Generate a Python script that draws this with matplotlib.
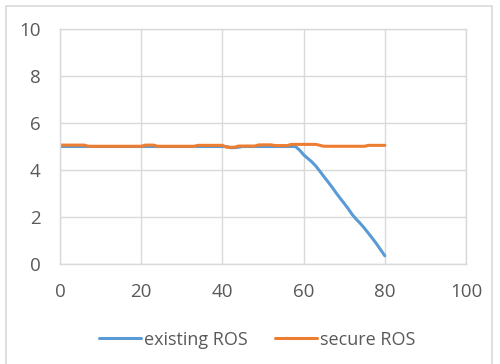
import numpy as np
import matplotlib
matplotlib.use("Agg")
import matplotlib.pyplot as plt
from matplotlib.patches import Rectangle

plt.rcParams['font.family'] = ['Open Sans', 'DejaVu Sans']

# data
x = list(range(0, 81))

existing_ros = ([5.0] * 42 + [4.95, 4.95, 4.97] + [5.0] * 14 +
                [4.85, 4.65, 4.5, 4.35, 4.17, 3.95, 3.72, 3.5, 3.27, 3.03,
                 2.8, 2.58, 2.35, 2.1, 1.9, 1.72, 1.52, 1.3, 1.08, 0.85,
                 0.6, 0.35])

secure_ros = ([5.06] * 7 + [5.01] * 14 + [5.06] * 3 + [5.01] * 10 +
              [5.05] * 7 + [4.97] * 3 + [5.02] * 5 + [5.07] * 4 +
              [5.04] * 4 + [5.09] * 7 + [5.05] + [5.01] * 11 + [5.05] * 5)

series_names = ["existing ROS", "secure ROS"]
xticks = [0, 20, 40, 60, 80, 100]
yticks = [0, 2, 4, 6, 8, 10]

blue = "#5B9BD5"
orange = "#ED7D31"
grid_col = "#D9D9D9"
text_col = "#595959"

fig = plt.figure(figsize=(5, 3.64), dpi=100)
ax = fig.add_axes([0.12, 0.2747, 0.812, 0.6456])

# chart-area border
fig.patches.append(Rectangle((0.012, -0.02), 0.972, 1.003, transform=fig.transFigure,
                             fill=False, edgecolor=grid_col, linewidth=1.2))

ax.plot(x, existing_ros, color=blue, linewidth=2.2, label=series_names[0], solid_capstyle='round')
ax.plot(x, secure_ros, color=orange, linewidth=2.2, label=series_names[1], solid_capstyle='round')

ax.set_xlim(0, 100)
ax.set_ylim(0, 10)
ax.set_xticks(xticks)
ax.set_yticks(yticks)
ax.grid(True, color=grid_col, linewidth=1)
ax.set_axisbelow(True)
for s in ax.spines.values():
    s.set_color(grid_col)
    s.set_linewidth(1)
ax.tick_params(length=0, colors=text_col, labelsize=13.5)
ax.tick_params(axis='y', pad=14)
ax.tick_params(axis='x', pad=14)

leg = ax.legend(loc='upper center', bbox_to_anchor=(0.486, -0.215), ncol=2, frameon=False,
                fontsize=13, handlelength=2.3, handletextpad=0.2, columnspacing=1.5)
for t in leg.get_texts():
    t.set_color(text_col)

fig.savefig("out.png", dpi=100)
